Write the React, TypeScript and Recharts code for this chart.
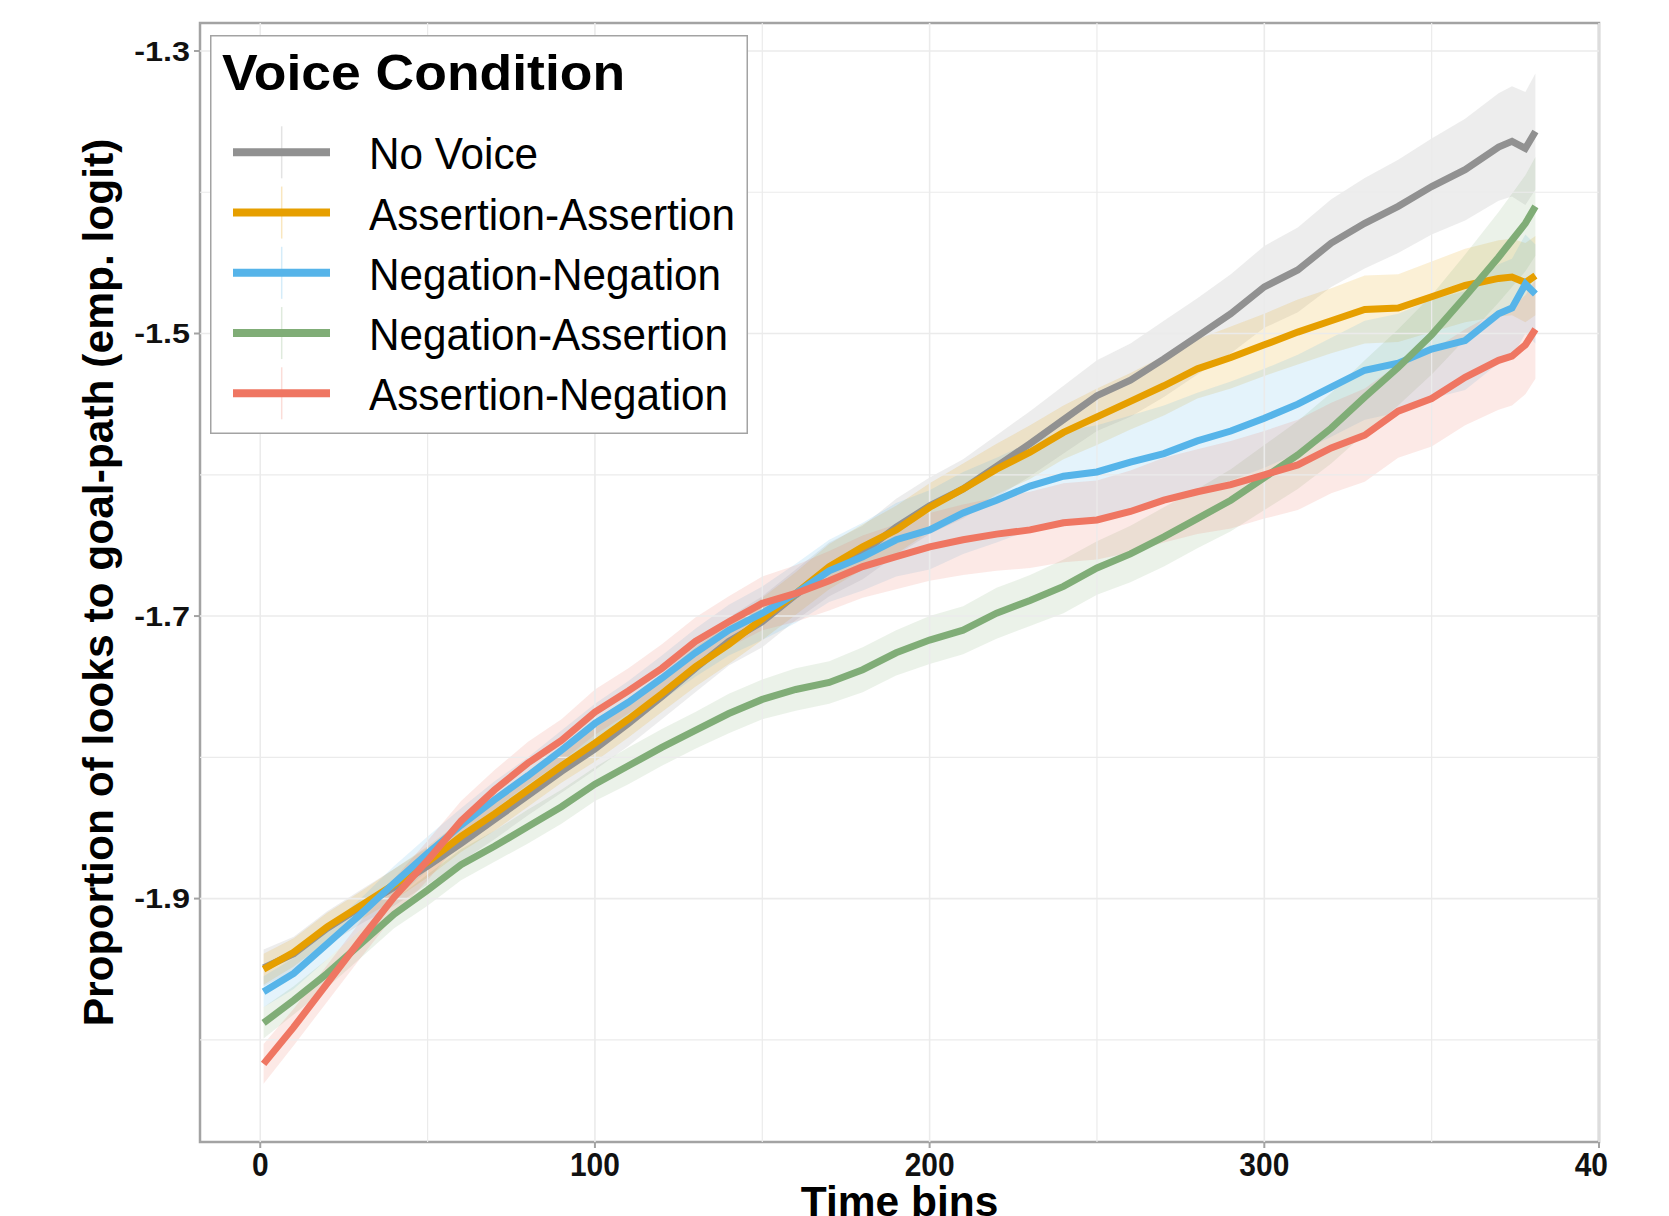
import React from 'react';
import { ComposedChart, Line, Area, XAxis, YAxis, ReferenceLine, ReferenceArea, Legend } from 'recharts';

const FONT = '"Liberation Sans", Arial, Helvetica, sans-serif';

// ---- data ----
const bins = [1, 10, 20, 30, 40, 50, 60, 70, 80, 90, 100, 110, 120, 130, 140, 150, 160, 170, 180, 190, 200, 210, 220, 230, 240, 250, 260, 270, 280, 290, 300, 310, 320, 330, 340, 350, 360, 370, 374, 378, 381];

const noVoice = [-1.949, -1.939, -1.921, -1.906, -1.892, -1.877, -1.861, -1.844, -1.827, -1.810, -1.794, -1.776, -1.757, -1.737, -1.718, -1.704, -1.685, -1.667, -1.655, -1.637, -1.622, -1.610, -1.594, -1.578, -1.561, -1.544, -1.533, -1.518, -1.502, -1.486, -1.467, -1.455, -1.436, -1.422, -1.410, -1.396, -1.384, -1.368, -1.364, -1.369, -1.357];
const assertAssert = [-1.950, -1.938, -1.920, -1.905, -1.890, -1.874, -1.856, -1.840, -1.823, -1.806, -1.790, -1.773, -1.755, -1.736, -1.720, -1.702, -1.684, -1.665, -1.651, -1.639, -1.623, -1.610, -1.596, -1.584, -1.570, -1.559, -1.548, -1.537, -1.525, -1.517, -1.508, -1.499, -1.491, -1.483, -1.482, -1.474, -1.466, -1.461, -1.460, -1.464, -1.459];
const negNeg = [-1.966, -1.953, -1.932, -1.911, -1.889, -1.868, -1.848, -1.830, -1.813, -1.795, -1.776, -1.761, -1.744, -1.726, -1.710, -1.698, -1.684, -1.668, -1.658, -1.646, -1.639, -1.627, -1.618, -1.608, -1.601, -1.598, -1.591, -1.585, -1.576, -1.569, -1.560, -1.550, -1.538, -1.526, -1.521, -1.511, -1.505, -1.486, -1.482, -1.465, -1.472];
const negAssert = [-1.988, -1.972, -1.953, -1.932, -1.911, -1.894, -1.876, -1.863, -1.849, -1.835, -1.819, -1.806, -1.793, -1.781, -1.769, -1.759, -1.752, -1.747, -1.738, -1.726, -1.717, -1.710, -1.698, -1.689, -1.679, -1.666, -1.656, -1.644, -1.631, -1.618, -1.602, -1.586, -1.567, -1.545, -1.524, -1.501, -1.474, -1.446, -1.434, -1.422, -1.410];
const assertNeg = [-2.017, -1.991, -1.960, -1.929, -1.899, -1.873, -1.845, -1.823, -1.804, -1.788, -1.768, -1.753, -1.737, -1.718, -1.704, -1.691, -1.684, -1.675, -1.665, -1.658, -1.651, -1.646, -1.642, -1.639, -1.634, -1.632, -1.626, -1.618, -1.612, -1.607, -1.600, -1.593, -1.581, -1.572, -1.555, -1.546, -1.531, -1.519, -1.516, -1.508, -1.497];

// ribbon half-widths
const noVoiceSe = [0.013, 0.012, 0.012, 0.012, 0.013, 0.013, 0.013, 0.014, 0.014, 0.015, 0.015, 0.016, 0.016, 0.017, 0.017, 0.018, 0.018, 0.019, 0.019, 0.020, 0.020, 0.021, 0.022, 0.023, 0.024, 0.025, 0.026, 0.027, 0.027, 0.028, 0.029, 0.030, 0.031, 0.032, 0.033, 0.034, 0.036, 0.038, 0.039, 0.040, 0.041];
const assertAssertSe = [0.011, 0.010, 0.010, 0.010, 0.011, 0.011, 0.011, 0.012, 0.012, 0.012, 0.013, 0.013, 0.013, 0.014, 0.014, 0.015, 0.015, 0.016, 0.016, 0.017, 0.017, 0.018, 0.018, 0.019, 0.019, 0.020, 0.020, 0.021, 0.021, 0.022, 0.022, 0.023, 0.023, 0.024, 0.024, 0.025, 0.026, 0.027, 0.027, 0.028, 0.028];
const negNegSe = [0.011, 0.011, 0.011, 0.011, 0.012, 0.012, 0.012, 0.013, 0.013, 0.014, 0.014, 0.015, 0.016, 0.017, 0.018, 0.019, 0.021, 0.022, 0.024, 0.026, 0.028, 0.029, 0.030, 0.031, 0.032, 0.033, 0.033, 0.034, 0.034, 0.035, 0.035, 0.035, 0.035, 0.035, 0.035, 0.035, 0.035, 0.035, 0.035, 0.035, 0.035];
const negAssertSe = [0.011, 0.010, 0.010, 0.010, 0.010, 0.011, 0.011, 0.011, 0.012, 0.012, 0.012, 0.013, 0.013, 0.013, 0.014, 0.014, 0.015, 0.015, 0.016, 0.016, 0.017, 0.017, 0.018, 0.018, 0.019, 0.019, 0.020, 0.021, 0.021, 0.022, 0.023, 0.024, 0.025, 0.026, 0.027, 0.028, 0.030, 0.032, 0.033, 0.034, 0.035];
const assertNegSe = [0.014, 0.013, 0.013, 0.013, 0.013, 0.014, 0.014, 0.014, 0.015, 0.015, 0.016, 0.016, 0.017, 0.017, 0.018, 0.019, 0.020, 0.021, 0.022, 0.023, 0.024, 0.025, 0.026, 0.027, 0.028, 0.028, 0.029, 0.030, 0.030, 0.031, 0.031, 0.032, 0.032, 0.033, 0.033, 0.034, 0.034, 0.035, 0.035, 0.035, 0.035];

const seriesNames = ['No Voice', 'Assertion-Assertion', 'Negation-Negation', 'Negation-Assertion', 'Assertion-Negation'];
const seriesKeys = ['noVoice', 'assertAssert', 'negNeg', 'negAssert', 'assertNeg'];
const seriesColors = ['#919191', '#E69F00', '#56B4E9', '#80AD77', '#EF7662'];
const seriesValues = [noVoice, assertAssert, negNeg, negAssert, assertNeg];
const seriesSe = [noVoiceSe, assertAssertSe, negNegSe, negAssertSe, assertNegSe];

const legendTitle = 'Voice Condition';
const xTitle = 'Time bins';
const yTitle = 'Proportion of looks to goal-path (emp. logit)';

const xTicks = [0, 100, 200, 300, 400];
const xTickLabels = ['0', '100', '200', '300', '40'];
const yTicks = [-1.9, -1.7, -1.5, -1.3];
const yTickLabels = ['-1.9', '-1.7', '-1.5', '-1.3'];
const xMinorGrid = [50, 150, 250, 350];
const yMinorGrid = [-2.0, -1.8, -1.6, -1.4];
const xDomain = [-18, 400];
const yDomain = [-2.0723, -1.2802];

const table = bins.map((b, i) => {
  const row: any = { bin: b };
  seriesKeys.forEach((k, s) => {
    const v = seriesValues[s][i];
    const e = seriesSe[s][i];
    row[k] = v;
    row[k + 'Band'] = [v - e, v + e];
  });
  return row;
});

const GRID = '#EBEBEB';
const BORDER = '#A3A3A3';

const XTick = (props: any) => {
  const { x, y, payload, index } = props;
  const i = typeof index === 'number' ? index : xTicks.indexOf(payload.value);
  const label = xTickLabels[i] ?? String(payload.value);
  const clipped = label !== String(payload.value);
  return (
    <text
      transform={`translate(${x + (clipped ? 9 : 0)},${y}) scale(0.88,1)`}
      textAnchor={clipped ? 'end' : 'middle'}
      dy="0.72em"
      fontSize={34}
      fontWeight="bold"
      fontFamily={FONT}
      fill="#111"
    >
      {label}
    </text>
  );
};

const YTick = (props: any) => {
  const { x, y, payload } = props;
  const i = yTicks.findIndex((t) => Math.abs(t - payload.value) < 1e-9);
  const label = i >= 0 ? yTickLabels[i] : String(payload.value);
  return (
    <text
      transform={`translate(${x},${y}) scale(1.2,1)`}
      textAnchor="end"
      dy="0.36em"
      fontSize={27}
      fontWeight="bold"
      fontFamily={FONT}
      fill="#111"
    >
      {label}
    </text>
  );
};

const YTitle = (props: any) => {
  const vb = props.viewBox || { x: 120, y: 23, width: 80, height: 1119 };
  const cx = vb.x - 7;
  const cy = vb.y + vb.height / 2;
  return (
    <text
      transform={`translate(${cx},${cy}) rotate(-90)`}
      textAnchor="middle"
      fontSize={42.5}
      fontWeight="bold"
      fontFamily={FONT}
      fill="#000"
    >
      {yTitle}
    </text>
  );
};

const XTitle = (props: any) => {
  const vb = props.viewBox || { x: 200, y: 1142, width: 1399, height: 74 };
  return (
    <text
      x={vb.x + vb.width / 2}
      y={vb.y + vb.height}
      textAnchor="middle"
      fontSize={42.5}
      fontWeight="bold"
      fontFamily={FONT}
      fill="#000"
    >
      {xTitle}
    </text>
  );
};

const LegendBox = () => {
  const w = 538;
  const h = 399;
  return (
    <svg width={w} height={h} style={{ display: 'block' }}>
      <rect x={0.75} y={0.75} width={w - 1.5} height={h - 1.5} fill="#fff" stroke={BORDER} strokeWidth={1.5} />
      <text
        transform="translate(12,55) scale(1.07,1)"
        fontSize={50}
        fontWeight="bold"
        fontFamily={FONT}
        fill="#000"
      >
        {legendTitle}
      </text>
      {seriesNames.map((name, i) => {
        const cy = 117.3 + i * 60.25;
        return (
          <g key={name}>
            <line x1={71.7} x2={71.7} y1={cy - 26} y2={cy + 26} stroke={seriesColors[i]} strokeOpacity={0.25} strokeWidth={1.5} />
            <line x1={23} x2={120} y1={cy} y2={cy} stroke={seriesColors[i]} strokeWidth={8} />
            <text
              transform={`translate(159,${cy + 17}) scale(0.96,1)`}
              fontSize={44}
              fontFamily={FONT}
              fill="#000"
            >
              {name}
            </text>
          </g>
        );
      })}
    </svg>
  );
};

export default function App() {
  return (
    <div style={{ position: 'fixed', left: 0, top: 0, width: 1669, height: 1216, background: '#fff', overflow: 'hidden' }}>
      <ComposedChart
        width={1669}
        height={1216}
        data={table}
        margin={{ top: 23, right: 70, bottom: 0, left: 120 }}
      >
        {xMinorGrid.map((v) => (
          <ReferenceLine key={'xm' + v} x={v} stroke={GRID} strokeWidth={1.2} />
        ))}
        {yMinorGrid.map((v) => (
          <ReferenceLine key={'ym' + v} y={v} stroke={GRID} strokeWidth={1.2} />
        ))}
        {xTicks.map((v) => (
          <ReferenceLine key={'xM' + v} x={v} stroke={GRID} strokeWidth={1.6} />
        ))}
        {yTicks.map((v) => (
          <ReferenceLine key={'yM' + v} y={v} stroke={GRID} strokeWidth={1.6} />
        ))}
        <XAxis
          dataKey="bin"
          type="number"
          domain={xDomain}
          ticks={xTicks}
          allowDataOverflow
          height={74}
          tickSize={6}
          tickMargin={4}
          axisLine={false}
          tickLine={{ stroke: BORDER, strokeWidth: 2 }}
          tick={<XTick />}
          interval={0}
          label={{ content: (p: any) => <XTitle {...p} /> }}
        />
        <YAxis
          type="number"
          domain={yDomain}
          ticks={yTicks}
          allowDataOverflow
          width={80}
          tickSize={6}
          tickMargin={4}
          axisLine={false}
          tickLine={{ stroke: BORDER, strokeWidth: 2 }}
          tick={<YTick />}
          interval={0}
          label={{ content: (p: any) => <YTitle {...p} /> }}
        />
        {seriesKeys.map((k, s) => (
          <Area
            key={k + 'Band'}
            dataKey={k + 'Band'}
            type="linear"
            stroke="none"
            fill={seriesColors[s]}
            fillOpacity={0.16}
            isAnimationActive={false}
            legendType="none"
          />
        ))}
        {seriesKeys.map((k, s) => (
          <Line
            key={k}
            dataKey={k}
            name={seriesNames[s]}
            type="linear"
            stroke={seriesColors[s]}
            strokeWidth={7}
            dot={false}
            activeDot={false}
            isAnimationActive={false}
          />
        ))}
        <ReferenceArea
          x1={xDomain[0]}
          x2={xDomain[1]}
          y1={yDomain[0]}
          y2={yDomain[1]}
          fill="none"
          fillOpacity={0}
          stroke={BORDER}
          strokeWidth={2.5}
          ifOverflow="visible"
        />
        <Legend
          layout="vertical"
          align="center"
          verticalAlign="middle"
          wrapperStyle={{ left: 210, top: 35, width: 538, height: 399 }}
          content={() => <LegendBox />}
        />
      </ComposedChart>
    </div>
  );
}
